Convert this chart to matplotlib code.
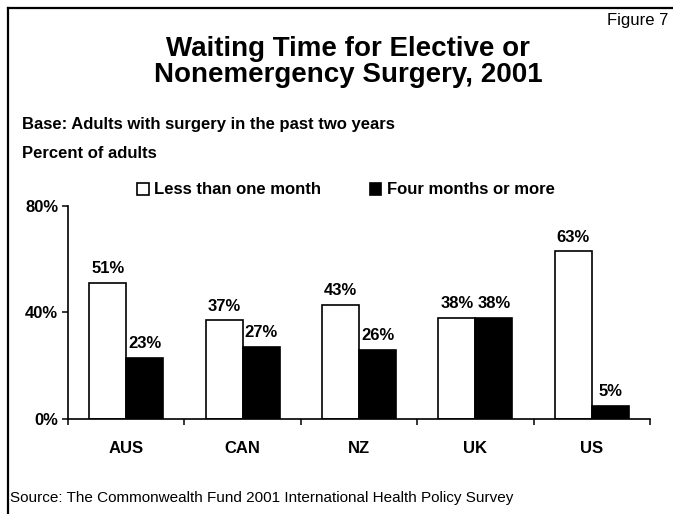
import numpy as np
import matplotlib.pyplot as plt
from matplotlib.lines import Line2D
from matplotlib.ticker import FixedLocator

plt.rcParams['font.family'] = ['Liberation Sans', 'DejaVu Sans']

countries = ['AUS', 'CAN', 'NZ', 'UK', 'US']
less_than_month = [51, 37, 43, 38, 63]
four_months_plus = [23, 27, 26, 38, 5]

fig = plt.figure(figsize=(6.73, 5.14), dpi=100)
ax = fig.add_axes([68 / 673, 1 - 419 / 514, (650 - 68) / 673, (419 - 206) / 514])

x = np.arange(len(countries))
w = 0.318
b1 = ax.bar(x - w / 2, less_than_month, w, color='white', edgecolor='black', linewidth=1.2,
            label='Less than one month')
b2 = ax.bar(x + w / 2, four_months_plus, w, color='black', edgecolor='black', linewidth=1.2,
            label='Four months or more')

for bars, vals in ((b1, less_than_month), (b2, four_months_plus)):
    for rect, v in zip(bars, vals):
        ax.annotate(f'{v}%', (rect.get_x() + rect.get_width() / 2, v), xytext=(0, 7),
                    textcoords='offset points', ha='center', va='baseline',
                    fontsize=12, fontweight='bold')

ax.set_xlim(-0.5, len(countries) - 0.5)
ax.set_ylim(0, 80)
ax.set_yticks([0, 40, 80])
ax.set_yticklabels(['0%', '40%', '80%'], fontsize=12, fontweight='bold')
ax.set_xticks(x)
ax.set_xticklabels(countries, fontsize=12, fontweight='bold')
ax.xaxis.set_minor_locator(FixedLocator(np.arange(-0.5, len(countries), 1)))
ax.tick_params(axis='x', which='major', length=0, pad=16)
ax.tick_params(axis='x', which='minor', length=4, width=1.1, direction='out')
ax.tick_params(axis='y', length=4, width=1.1, direction='out', pad=3)
for s in ('top', 'right'):
    ax.spines[s].set_visible(False)
for s in ('left', 'bottom'):
    ax.spines[s].set_linewidth(1.2)

fig.legend(handles=[b1, b2], loc='center', bbox_to_anchor=(346 / 673, 1 - 190 / 514),
           ncol=2, frameon=False, prop={'size': 12, 'weight': 'bold'},
           handlelength=0.7, handleheight=0.7, handletextpad=0.35, columnspacing=2.9)

fig.text(348 / 673, 1 - 62 / 514, 'Waiting Time for Elective or\nNonemergency Surgery, 2001',
         ha='center', va='center', fontsize=20, fontweight='bold', linespacing=1.05)
fig.text(668 / 673, 1 - 21 / 514, 'Figure 7', ha='right', va='center', fontsize=12)
fig.text(22 / 673, 1 - 125 / 514, 'Base: Adults with surgery in the past two years',
         ha='left', va='center', fontsize=12, fontweight='bold')
fig.text(22 / 673, 1 - 153 / 514, 'Percent of adults', ha='left', va='center',
         fontsize=12, fontweight='bold')
fig.text(10 / 673, 1 - 498 / 514, 'Source: The Commonwealth Fund 2001 International Health Policy Survey',
         ha='left', va='center', fontsize=11)

# frame open at right and bottom
fig.add_artist(Line2D([8 / 673, 8 / 673], [0, 1 - 8 / 514], color='black', linewidth=1.6))
fig.add_artist(Line2D([8 / 673, 1], [1 - 8 / 514, 1 - 8 / 514], color='black', linewidth=1.6))

fig.savefig('out.png', dpi=100)
